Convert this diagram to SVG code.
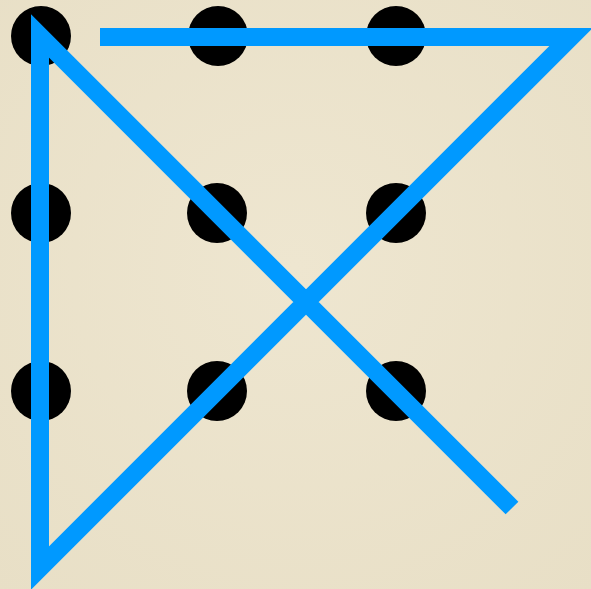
<svg xmlns="http://www.w3.org/2000/svg" width="591" height="589" viewBox="0 0 591 589">
  <style>
    .dot { fill: #000000; }
    .line { fill: none; stroke: #0099FF; stroke-width: 18; stroke-linejoin: miter; stroke-linecap: butt; stroke-miterlimit: 6; }
  </style>
  <defs>
    <radialGradient id="paper" cx="50%" cy="45%" r="75%">
      <stop offset="0" stop-color="#EEE6D0"/>
      <stop offset="1" stop-color="#E8DFC6"/>
    </radialGradient>
  </defs>
  <rect x="0" y="0" width="591" height="589" fill="url(#paper)"/>
  <g id="dots">
    <g id="dot-1-1"><circle class="dot" cx="41" cy="36" r="30"/></g>
    <g id="dot-1-2"><circle class="dot" cx="218" cy="36" r="30"/></g>
    <g id="dot-1-3"><circle class="dot" cx="396" cy="36" r="30"/></g>
    <g id="dot-2-1"><circle class="dot" cx="41" cy="213" r="30"/></g>
    <g id="dot-2-2"><circle class="dot" cx="217" cy="213" r="30"/></g>
    <g id="dot-2-3"><circle class="dot" cx="396" cy="213" r="30"/></g>
    <g id="dot-3-1"><circle class="dot" cx="41" cy="391" r="30"/></g>
    <g id="dot-3-2"><circle class="dot" cx="217" cy="391" r="30"/></g>
    <g id="dot-3-3"><circle class="dot" cx="396" cy="391" r="30"/></g>
  </g>
  <g id="connectors">
    <path class="line" d="M100,37 L571,37 L40,568 L40,36 L512,508"/>
  </g>
</svg>
